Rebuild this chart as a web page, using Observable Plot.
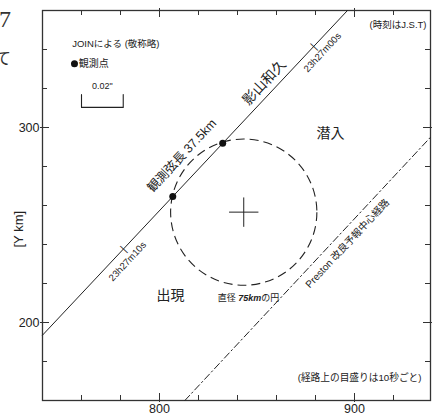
<!DOCTYPE html>
<html><head><meta charset="utf-8">
<script src="https://cdn.jsdelivr.net/npm/d3@7"></script>
<script src="https://cdn.jsdelivr.net/npm/@observablehq/plot@0.6"></script>
<style>
body{margin:0;background:#fff;}
#wrap{position:relative;width:434px;height:416px;overflow:hidden;}
</style></head><body>
<div id="wrap"></div>
<script>
// ---- data (km) ----
const xDomain = [740, 938.97];
const yDomain = [160, 360];
const xMinorTicks = [760, 780, 820, 840, 860, 880, 920];
const xMajorTicks = [800, 900];
const yMinorTicks = [180, 220, 240, 260, 280, 320, 340];
const yMajorTicks = [200, 300];

const observedPath = [{x: 740, y: 193.5}, {x: 896.4, y: 360}];
const prestonPath = [{x: 813, y: 160}, {x: 938.97, y: 295}];
const observedPoints = [{x: 806.8, y: 264.6}, {x: 832.4, y: 291.9}];
const timeTicks = [{x: 879, y: 341.5}, {x: 781.5, y: 237.7}];
const timeLabels = [{text: "23h27m00s", x: 883.6, y: 338.5}, {text: "23h27m10s", x: 783.6, y: 231.3}];
const circleCenter = [{x: 843.2, y: 256.6}];
const circleDiameter = 75;

const observerLabel = [{text: "影山和久", x: 853.8, y: 323.1}];
const chordLabel = [{text: "観測弦長 37.5km", x: 811.5, y: 285.6}];
const prestonLabel = [{text: "Preston 改良予報中心経路", x: 896.4, y: 240.5}];
const regionLabels = [{text: "潜入", x: 887.7, y: 296.9}, {text: "出現", x: 805.6, y: 213.8}];
const circleLabel = [{text: "直径 75kmの円", x: 845.6, y: 212.3}];

const legendTitle = [{text: "JOINによる (敬称略)", x: 755.2, y: 342.9}];
const legendDot = [{x: 756.4, y: 332.7}];
const legendDotText = [{text: "観測点", x: 758.6, y: 332.7}];
const scaleBar = [{x: 760, y: 316.9}, {x: 760, y: 310.3}, {x: 781.4, y: 310.3}, {x: 781.4, y: 316.9}];
const scaleBarLabel = [{text: "0.02\"", x: 770.7, y: 321}];

const noteTop = ["(時刻はJ.S.T)"];
const noteBottom = ["(経路上の目盛りは10秒ごと)"];
const yAxisTitle = ["[Y km]"];

// ---- layout ----
const W = 434, H = 416, mT = 10, mB = 16, mL = 42, mR = 4;
const innerW = W - mL - mR, innerH = H - mT - mB;
const FONT = "'Liberation Sans', Arial, 'Noto Sans CJK JP', sans-serif";
const INK = "#222";
const ANG = -47;

const plot = Plot.plot({
  width: W, height: H,
  marginTop: mT, marginBottom: mB, marginLeft: mL, marginRight: mR,
  x: {domain: xDomain, ticks: xMajorTicks, tickSize: 0, tickPadding: 3.5, label: null},
  y: {domain: yDomain, ticks: yMajorTicks, tickSize: 0, tickPadding: 3, label: null},
  style: {fontFamily: FONT, fontSize: "12.5px", color: INK, background: "white"},
  marks: [
    // ticks inside the frame
    Plot.ruleX(xMinorTicks, {x: d => d, insetTop: innerH - 5, stroke: "#333"}),
    Plot.ruleX(xMinorTicks, {x: d => d, insetBottom: innerH - 5, stroke: "#333"}),
    Plot.ruleX(xMajorTicks, {x: d => d, insetTop: innerH - 7, insetBottom: -2, stroke: "#333"}),
    Plot.ruleX(xMajorTicks, {x: d => d, insetBottom: innerH - 7, insetTop: -2, stroke: "#333"}),
    Plot.ruleY(yMinorTicks, {y: d => d, insetRight: innerW - 5, stroke: "#333"}),
    Plot.ruleY(yMinorTicks, {y: d => d, insetLeft: innerW - 5, stroke: "#333"}),
    Plot.ruleY(yMajorTicks, {y: d => d, insetRight: innerW - 7, insetLeft: -2, stroke: "#333"}),
    Plot.ruleY(yMajorTicks, {y: d => d, insetLeft: innerW - 7, insetRight: -2, stroke: "#333"}),
    Plot.frame({stroke: "#333", strokeWidth: 1.3}),

    // circle of 75 km diameter
    Plot.dot(circleCenter, {
      x: "x", y: "y", fill: "none", stroke: INK, strokeWidth: 1.1, strokeDasharray: "9,5",
      render(index, scales, values, dimensions, context, next) {
        const g = next(index, scales, values, dimensions, context);
        const c = circleCenter[0];
        const r = scales.x(c.x + circleDiameter / 2) - scales.x(c.x);
        d3.select(g).selectAll("circle").attr("r", r);
        return g;
      }
    }),
    Plot.dot(circleCenter, {x: "x", y: "y", symbol: "plus", r: 9.5, stroke: INK, strokeWidth: 1}),

    // paths
    Plot.line(observedPath, {x: "x", y: "y", stroke: INK, strokeWidth: 1}),
    Plot.line(prestonPath, {x: "x", y: "y", stroke: INK, strokeWidth: 1, strokeDasharray: "7,3,1.5,3"}),
    Plot.text(timeTicks, {x: "x", y: "y", text: () => "|", rotate: ANG, fontSize: 11, fill: INK}),
    Plot.dot(observedPoints, {x: "x", y: "y", r: 3.5, fill: "#111", stroke: "none"}),

    // labels
    Plot.text(timeLabels, {x: "x", y: "y", text: "text", rotate: ANG, fontSize: 9.5, fill: INK}),
    Plot.text(observerLabel, {x: "x", y: "y", text: "text", rotate: ANG, fontSize: 14, fill: INK}),
    Plot.text(chordLabel, {x: "x", y: "y", text: "text", rotate: ANG, fontSize: 12.5, fill: INK}),
    Plot.text(prestonLabel, {x: "x", y: "y", text: "text", rotate: ANG, fontSize: 10, fill: INK}),
    Plot.text(regionLabels, {x: "x", y: "y", text: "text", fontSize: 14, fill: INK}),
    Plot.text(circleLabel, {x: "x", y: "y", text: "text", fontSize: 9, fill: INK}),

    // legend
    Plot.text(legendTitle, {x: "x", y: "y", text: "text", textAnchor: "start", fontSize: 9.5, fill: INK}),
    Plot.dot(legendDot, {x: "x", y: "y", r: 3.5, fill: "#111", stroke: "none"}),
    Plot.text(legendDotText, {x: "x", y: "y", text: "text", textAnchor: "start", fontSize: 10, fill: INK}),
    Plot.line(scaleBar, {x: "x", y: "y", stroke: INK, strokeWidth: 1.1}),
    Plot.text(scaleBarLabel, {x: "x", y: "y", text: "text", fontSize: 9, fill: INK}),

    // notes
    Plot.text(noteTop, {frameAnchor: "top-right", text: d => d, textAnchor: "end", dx: -4, dy: 10.7, fontSize: 9.5, fill: INK}),
    Plot.text(noteBottom, {frameAnchor: "bottom-right", text: d => d, textAnchor: "end", dx: -9, dy: -20, fontSize: 9.7, fill: INK}),
    Plot.text(yAxisTitle, {frameAnchor: "left", text: d => d, rotate: -90, dx: -24, dy: 42, fontSize: 13, fill: INK})
  ]
});

// bold italic "75km" inside the circle label
d3.select(plot).selectAll("text").filter(function() { return this.textContent === circleLabel[0].text; })
  .each(function() {
    const t = d3.select(this);
    t.text(null);
    t.append("tspan").text("直径 ");
    t.append("tspan").attr("font-weight", "bold").attr("font-style", "italic").text("75km");
    t.append("tspan").text("の円");
  });

// fragments of the surrounding page text at the left edge
const svg = d3.select(plot.tagName.toLowerCase() === "svg" ? plot : plot.querySelector("svg"));
svg.append("text").attr("x", 5).attr("y", 27).attr("fill", "#333")
  .style("font", "24px 'Liberation Serif', serif").text("7");
svg.append("text").attr("x", 3).attr("y", 64).attr("fill", "#333")
  .style("font", "16px 'Noto Sans CJK JP', sans-serif").text("て");

document.getElementById("wrap").appendChild(plot);
</script>
</body></html>
